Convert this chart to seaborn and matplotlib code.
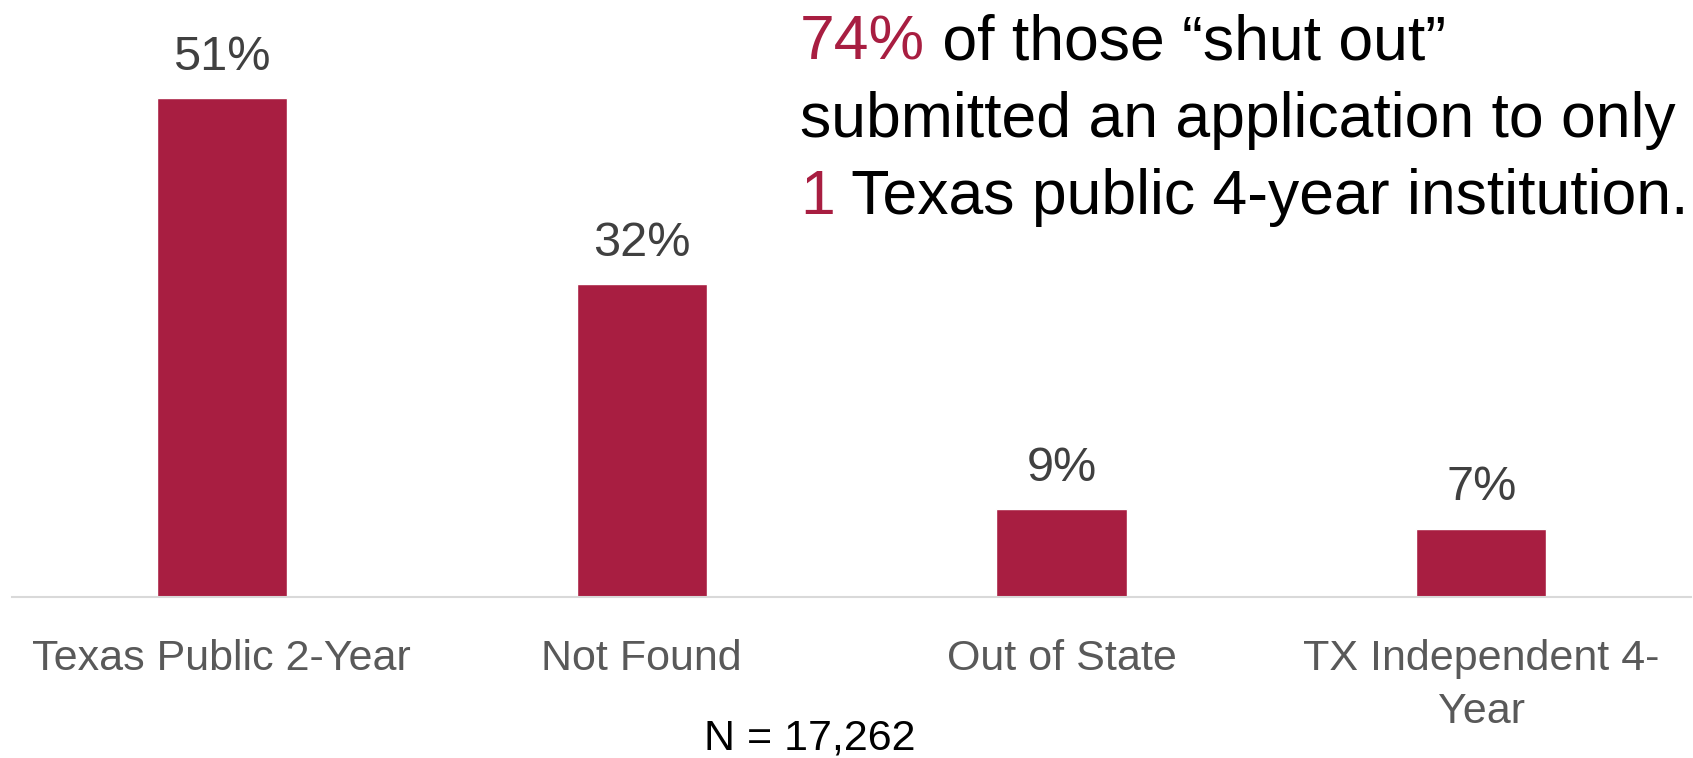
import matplotlib
matplotlib.use("Agg")
import matplotlib.pyplot as plt
import seaborn as sns
import pandas as pd

# Where students who were shut out ended up
categories = ["Texas Public 2-Year", "Not Found", "Out of State", "TX Independent 4-\nYear"]
shares = [51, 32, 9, 7]
value_labels = ["51%", "32%", "9%", "7%"]
sample_note = "N = 17,262"

BAR = "#A81E41"
VALUE_GREY = "#404040"
TICK_GREY = "#595959"

sns.set_theme(style="white")
plt.rcParams["font.family"] = ["Liberation Sans", "DejaVu Sans"]

df = pd.DataFrame({"category": categories, "share": shares})

fig = plt.figure(figsize=(16.93, 7.58), dpi=100)
ax = fig.add_axes([0.007, 0.2124, 0.992, 0.7691])

sns.barplot(data=df, x="category", y="share", color=BAR, width=0.31,
            saturation=1, ax=ax)

ax.set_ylim(0, 59.6)
ax.set_xlim(-0.5, len(categories) - 0.5)
ax.set_xlabel("")
ax.set_ylabel("")
ax.set_yticks([])
for side in ["left", "right", "top"]:
    ax.spines[side].set_visible(False)
ax.spines["bottom"].set_color("#D9D9D9")
ax.spines["bottom"].set_linewidth(1.5)

ax.tick_params(axis="x", length=0, pad=30, labelsize=31, labelcolor=TICK_GREY)
for lbl in ax.get_xticklabels():
    lbl.set_linespacing(1.42)
    lbl.set_verticalalignment("top")

# value labels above the bars
for i, (v, txt) in enumerate(zip(shares, value_labels)):
    ax.annotate(txt, xy=(i, v), xytext=(0, 13), textcoords="offset points",
                ha="center", va="bottom", fontsize=35, color=VALUE_GREY)

# call-out text with highlighted numbers
fs = 45
x0 = 0.4725
t1 = fig.text(x0, 0.922, "74%", fontsize=fs, color=BAR, ha="left", va="baseline")
ax.annotate(" of those \u201cshut out\u201d", xycoords=t1, xy=(1, 0), va="bottom",
            fontsize=fs, color="black", annotation_clip=False)
fig.text(x0, 0.819, "submitted an application to only", fontsize=fs,
         color="black", ha="left", va="baseline")
t3 = fig.text(x0, 0.718, "1", fontsize=fs, color=BAR, ha="left", va="baseline")
ax.annotate(" Texas public 4-year institution.", xycoords=t3, xy=(1, 0), va="bottom",
            fontsize=fs, color="black", annotation_clip=False)

fig.text(0.4785, 0.0106, sample_note, fontsize=31, color="black", ha="center",
         va="baseline")

fig.savefig("out.png", dpi=100, facecolor="white")
